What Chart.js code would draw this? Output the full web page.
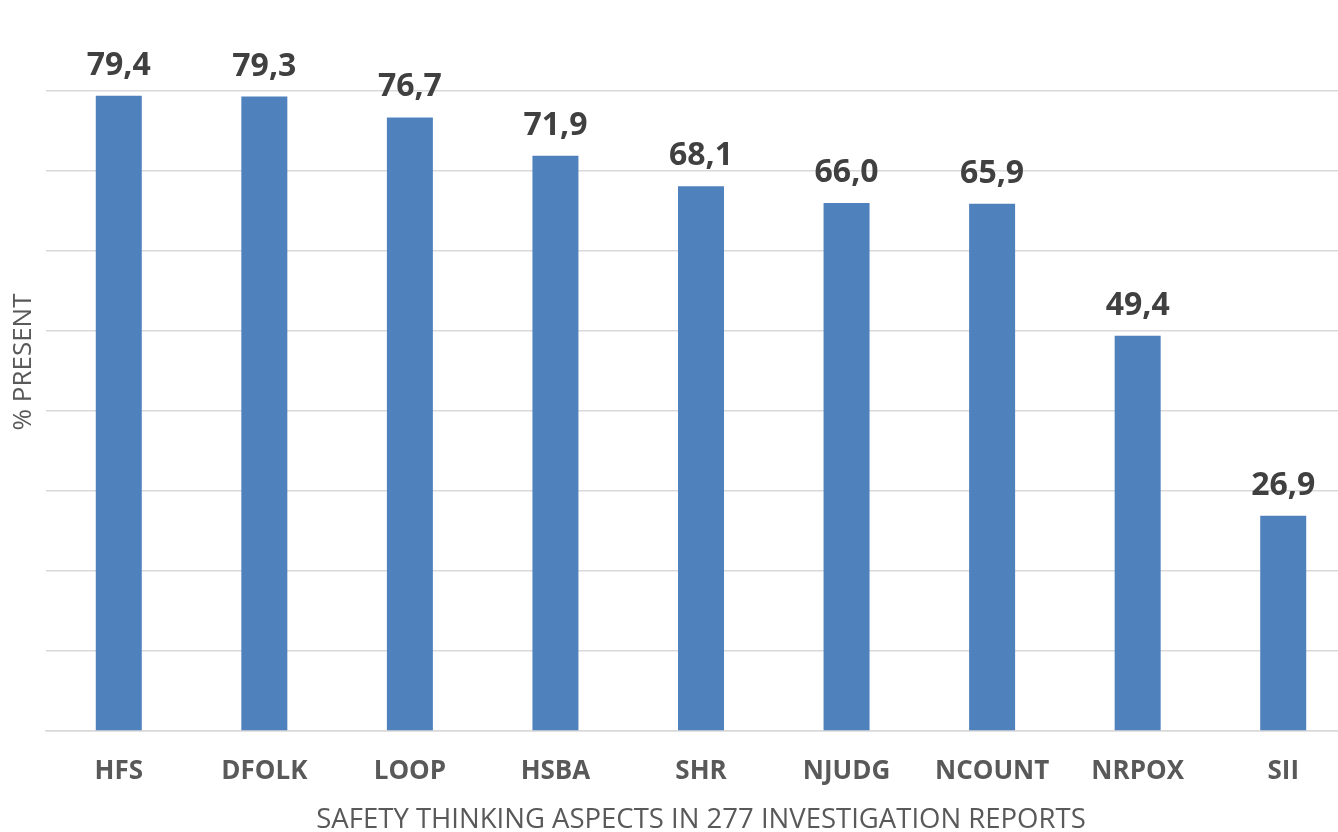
<!DOCTYPE html>
<html>
<head>
<meta charset="utf-8">
<script src="https://cdn.jsdelivr.net/npm/chart.js@4.4.1/dist/chart.umd.min.js"></script>
<style>
  html, body { margin: 0; padding: 0; background: #ffffff; overflow: hidden; }
  #wrap { position: absolute; left: 0; top: 0; width: 1360px; height: 832px; }
</style>
</head>
<body>
<div id="wrap"><canvas id="chart" width="1360" height="832"></canvas></div>
<script>
// Share of the 277 investigation reports in which each safety-thinking aspect is present
const categories = ['HFS', 'DFOLK', 'LOOP', 'HSBA', 'SHR', 'NJUDG', 'NCOUNT', 'NRPOX', 'SII'];
const percentPresent = [79.4, 79.3, 76.7, 71.9, 68.1, 66.0, 65.9, 49.4, 26.9];
const yMin = 0;
const yMax = 80;
const yStep = 10;

const xTitle = 'SAFETY THINKING ASPECTS IN 277 INVESTIGATION REPORTS';
const yTitle = '% PRESENT';

const fmt = v => v.toFixed(1).replace('.', ',');

// Value labels above every bar
const valueLabels = {
  id: 'valueLabels',
  afterDatasetsDraw(chart) {
    const ctx = chart.ctx;
    const meta = chart.getDatasetMeta(0);
    ctx.save();
    ctx.font = 'bold 32px "Open Sans"';
    ctx.fillStyle = '#404040';
    ctx.textAlign = 'center';
    ctx.textBaseline = 'alphabetic';
    meta.data.forEach((bar, i) => {
      ctx.fillText(fmt(percentPresent[i]), bar.x, bar.y - 21);
    });
    ctx.restore();
  }
};

// Vertical axis title, rotated
const yAxisTitle = {
  id: 'yAxisTitle',
  afterDraw(chart) {
    const ctx = chart.ctx;
    ctx.save();
    ctx.translate(24, 362);
    ctx.rotate(-Math.PI / 2);
    ctx.font = '26px "Open Sans"';
    ctx.fillStyle = '#595959';
    ctx.textAlign = 'center';
    ctx.textBaseline = 'middle';
    ctx.fillText(yTitle, 0, 0);
    ctx.restore();
  }
};

new Chart(document.getElementById('chart'), {
  type: 'bar',
  data: {
    labels: categories,
    datasets: [{
      data: percentPresent,
      backgroundColor: '#4f81bd',
      borderWidth: 0,
      categoryPercentage: 1,
      barPercentage: 0.316
    }]
  },
  options: {
    responsive: false,
    animation: false,
    layout: { padding: { top: 91, right: 4, left: 0, bottom: 0 } },
    plugins: {
      legend: { display: false },
      tooltip: { enabled: false }
    },
    scales: {
      x: {
        grid: { display: false, drawTicks: false },
        border: { display: true, color: '#d9d9d9', width: 1.5 },
        ticks: {
          font: { family: 'Open Sans', size: 26, weight: 'bold' },
          color: '#595959',
          padding: 25,
          maxRotation: 0,
          autoSkip: false
        },
        title: {
          display: true,
          text: xTitle,
          font: { family: 'Open Sans', size: 27.5, lineHeight: 0.85 },
          color: '#595959',
          padding: { top: 0, bottom: 0 }
        },
        afterFit(scale) { scale.height = 101; }
      },
      y: {
        min: yMin,
        max: yMax,
        grid: { color: '#d9d9d9', lineWidth: 1.5, drawTicks: false },
        border: { display: false },
        ticks: { stepSize: yStep, display: false },
        afterFit(scale) { scale.width = 46; }
      }
    }
  },
  plugins: [valueLabels, yAxisTitle]
});
</script>
</body>
</html>
